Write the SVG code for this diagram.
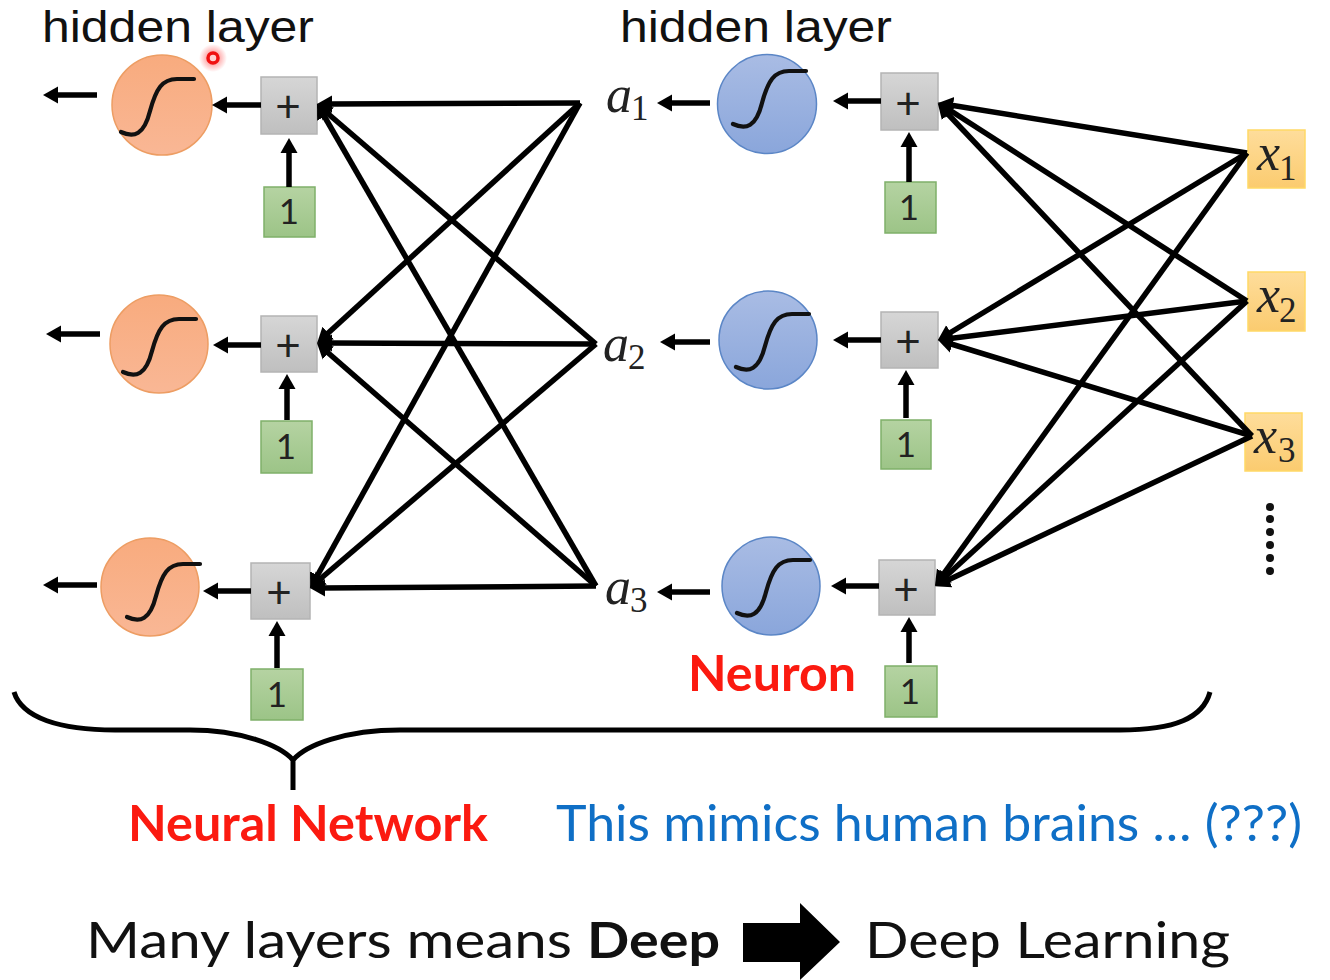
<svg xmlns="http://www.w3.org/2000/svg" width="1330" height="980" viewBox="0 0 1330 980">
<style>
.txt{font-family:"Lato","Open Sans","Liberation Sans",sans-serif;fill:#111;font-size:51px}
.hl{font-family:"Liberation Sans","Lato",sans-serif;fill:#111;font-size:45px}
.b{font-weight:700;font-size:49px}
.plus{fill:url(#gGrey);stroke:#b4b4b4;stroke-width:1.5}
.one{fill:url(#gGreen);stroke:#7fb069;stroke-width:1.5}
.inp{fill:url(#gYellow);stroke:#ffd966;stroke-width:1.5}
.org{fill:url(#gOrange);stroke:#ed9d63;stroke-width:1.5}
.blu{fill:url(#gBlue);stroke:#5b86c6;stroke-width:1.5}
.sig{fill:none;stroke:#111;stroke-width:4.2;stroke-linecap:round}
.sym{font-family:"Lato","Liberation Sans",sans-serif;font-size:35px;fill:#222;text-anchor:middle}
.pl{font-family:"Lato","Liberation Sans",sans-serif;font-size:44px;fill:#222;text-anchor:middle}
.mi{font-family:"Liberation Serif","DejaVu Serif",serif;font-style:italic;font-size:52px;fill:#222}
.sub{font-family:"Liberation Serif","DejaVu Serif",serif;font-size:35px;fill:#222}
.c{stroke:#000;stroke-width:5.5;fill:none;marker-end:url(#ah)}
.n{stroke:#000;stroke-width:5;fill:none}
</style>
<defs>
<marker id="ah" markerUnits="userSpaceOnUse" markerWidth="18" markerHeight="20" refX="3" refY="9" orient="auto"><path d="M0,0.5 L15,9 L0,17.5 Z" fill="#000"/></marker>
<linearGradient id="gGrey" x1="0" y1="0" x2="0" y2="1"><stop offset="0" stop-color="#d6d6d6"/><stop offset="1" stop-color="#bfbfbf"/></linearGradient>
<linearGradient id="gGreen" x1="0" y1="0" x2="0" y2="1"><stop offset="0" stop-color="#b5d3a2"/><stop offset="1" stop-color="#9cc487"/></linearGradient>
<linearGradient id="gYellow" x1="0" y1="0" x2="0" y2="1"><stop offset="0" stop-color="#fedd9b"/><stop offset="1" stop-color="#fbcb6f"/></linearGradient>
<linearGradient id="gOrange" x1="0" y1="0" x2="0" y2="1"><stop offset="0" stop-color="#f8ab7e"/><stop offset="1" stop-color="#f9b795"/></linearGradient>
<linearGradient id="gBlue" x1="0" y1="0" x2="0" y2="1"><stop offset="0" stop-color="#a9bce4"/><stop offset="1" stop-color="#8aa6db"/></linearGradient>
<radialGradient id="glow"><stop offset="0.3" stop-color="#ff3030" stop-opacity="0.5"/><stop offset="1" stop-color="#ff3030" stop-opacity="0"/></radialGradient>
<path id="sig" class="sig" d="M-41,27 C-28,33 -18,30 -12,6 C-6,-16 0,-26 15,-26 L32,-26"/>
</defs>

<g id="o1"><circle class="org" cx="162" cy="105" r="50"/><use href="#sig" x="162" y="105"/></g>
<g id="o2"><circle class="org" cx="159" cy="344" r="49"/><use href="#sig" x="164" y="345"/></g>
<g id="o3"><circle class="org" cx="150" cy="587" r="49"/><use href="#sig" x="168" y="590"/></g>
<g id="b1"><circle class="blu" cx="767" cy="104" r="49.5"/><use href="#sig" x="774" y="97"/></g>
<g id="b2"><circle class="blu" cx="768" cy="340" r="49"/><use href="#sig" x="777" y="340"/></g>
<g id="b3"><circle class="blu" cx="771" cy="586" r="49"/><use href="#sig" x="778" y="586"/></g>

<g id="pL1"><rect class="plus" x="261" y="77" width="56" height="57"/><text class="pl" x="288" y="122">+</text></g>
<g id="pL2"><rect class="plus" x="261" y="316" width="56" height="56"/><text class="pl" x="288" y="361">+</text></g>
<g id="pL3"><rect class="plus" x="251" y="563" width="59" height="56"/><text class="pl" x="279" y="608">+</text></g>
<g id="pR1"><rect class="plus" x="881" y="73" width="57" height="57"/><text class="pl" x="908" y="119">+</text></g>
<g id="pR2"><rect class="plus" x="881" y="312" width="57" height="56"/><text class="pl" x="908" y="357">+</text></g>
<g id="pR3"><rect class="plus" x="879" y="560" width="56" height="55"/><text class="pl" x="906" y="605">+</text></g>

<g id="oL1"><rect class="one" x="264" y="187" width="51" height="50"/><text class="sym" x="289" y="224">1</text></g>
<g id="oL2"><rect class="one" x="261" y="421" width="51" height="52"/><text class="sym" x="286" y="459">1</text></g>
<g id="oL3"><rect class="one" x="251" y="669" width="52" height="51"/><text class="sym" x="277" y="707">1</text></g>
<g id="oR1"><rect class="one" x="885" y="182" width="51" height="51"/><text class="sym" x="909" y="220">1</text></g>
<g id="oR2"><rect class="one" x="881" y="420" width="50" height="49"/><text class="sym" x="906" y="457">1</text></g>
<g id="oR3"><rect class="one" x="885" y="666" width="52" height="51"/><text class="sym" x="910" y="704">1</text></g>

<g id="x1"><rect class="inp" x="1248" y="130" width="57" height="58"/></g>
<g id="x2"><rect class="inp" x="1248" y="272" width="57" height="59"/></g>
<g id="x3"><rect class="inp" x="1245" y="413" width="57" height="58"/></g>

<g id="connectors">
<line class="c" x1="580" y1="103" x2="329" y2="104"/>
<line class="c" x1="596" y1="344" x2="326" y2="112"/>
<line class="c" x1="596" y1="586" x2="323" y2="114"/>
<line class="c" x1="580" y1="103" x2="326" y2="335"/>
<line class="c" x1="596" y1="344" x2="329" y2="343"/>
<line class="c" x1="596" y1="586" x2="326" y2="351"/>
<line class="c" x1="580" y1="103" x2="316" y2="578"/>
<line class="c" x1="596" y1="344" x2="319" y2="580"/>
<line class="c" x1="596" y1="586" x2="322" y2="588"/>
<line class="c" x1="1247" y1="153" x2="950" y2="105"/>
<line class="c" x1="1247" y1="301" x2="948" y2="109"/>
<line class="c" x1="1252" y1="436" x2="946" y2="112"/>
<line class="c" x1="1247" y1="153" x2="948" y2="334"/>
<line class="c" x1="1247" y1="301" x2="950" y2="338.5"/>
<line class="c" x1="1252" y1="436" x2="949.5" y2="343.5"/>
<line class="c" x1="1247" y1="153" x2="942" y2="576"/>
<line class="c" x1="1247" y1="301" x2="944" y2="578"/>
<line class="c" x1="1252" y1="436" x2="946" y2="581"/>
<line class="c" x1="97" y1="95" x2="55" y2="95"/>
<line class="c" x1="100" y1="334" x2="58" y2="334"/>
<line class="c" x1="97" y1="585" x2="55" y2="585"/>
<line class="c" x1="261" y1="105" x2="224" y2="105"/>
<line class="c" x1="261" y1="345" x2="225" y2="345"/>
<line class="c" x1="251" y1="591" x2="215" y2="591"/>
<line class="c" x1="289" y1="187" x2="289" y2="150"/>
<line class="c" x1="287" y1="420" x2="287" y2="386"/>
<line class="c" x1="277" y1="668" x2="277" y2="633"/>
<line class="c" x1="710" y1="103" x2="669" y2="103"/>
<line class="c" x1="710" y1="342" x2="672" y2="342"/>
<line class="c" x1="710" y1="592" x2="669" y2="592"/>
<line class="c" x1="881" y1="101" x2="845" y2="101"/>
<line class="c" x1="881" y1="340" x2="845" y2="340"/>
<line class="c" x1="879" y1="586" x2="843" y2="586"/>
<line class="c" x1="909" y1="182" x2="909" y2="144"/>
<line class="c" x1="906" y1="418" x2="906" y2="382"/>
<line class="c" x1="909" y1="663" x2="909" y2="629"/>
</g>

<g id="labelsX"><text class="mi" x="1257" y="170">x</text><text class="sub" x="1279" y="180">1</text><text class="mi" x="1257" y="312">x</text><text class="sub" x="1279" y="322">2</text><text class="mi" x="1254" y="453">x</text><text class="sub" x="1278" y="462">3</text></g>

<g id="a1"><text class="mi" x="606" y="112">a</text><text class="sub" x="631" y="120">1</text></g>
<g id="a2"><text class="mi" x="603" y="361">a</text><text class="sub" x="628" y="369">2</text></g>
<g id="a3"><text class="mi" x="605" y="604">a</text><text class="sub" x="630" y="612">3</text></g>

<g id="dots" fill="#111"><circle cx="1270" cy="507" r="4"/><circle cx="1270" cy="519" r="4"/><circle cx="1270" cy="532" r="4"/><circle cx="1270" cy="545" r="4"/><circle cx="1270" cy="558" r="4"/><circle cx="1270" cy="571" r="4"/></g>

<g id="brace"><path class="n" d="M14,692 C22,718 60,730 115,730 L190,730 C240,730 280,745 293,760 L293,790 M293,760 C306,745 345,730 400,730 L1120,730 C1175,730 1203,718 1210,692"/></g>

<g id="pointer"><circle cx="213" cy="58" r="14" fill="url(#glow)"/><circle cx="213" cy="58" r="5" fill="#ffd0d0" stroke="#f01010" stroke-width="3.5"/></g>

<text class="hl" x="42" y="41.5" textLength="272" lengthAdjust="spacingAndGlyphs">hidden layer</text>
<text class="hl" x="620" y="41.5" textLength="272" lengthAdjust="spacingAndGlyphs">hidden layer</text>
<text class="txt b" x="688" y="691" style="fill:#fb1a10" textLength="168" lengthAdjust="spacingAndGlyphs">Neuron</text>
<text class="txt b" x="128" y="841" style="fill:#fb1a10" textLength="360" lengthAdjust="spacingAndGlyphs">Neural Network</text>
<text class="txt" x="556" y="841" style="fill:#0f6fc6" textLength="746" lengthAdjust="spacingAndGlyphs">This mimics human brains … (???)</text>
<text class="txt" x="86" y="958" textLength="486" lengthAdjust="spacingAndGlyphs">Many layers means</text>
<text class="txt b" x="587" y="958" textLength="133" lengthAdjust="spacingAndGlyphs">Deep</text>
<polygon id="bigArrow" points="743,923 800,923 800,903 840,942 800,980 800,962 743,962" fill="#000"/>
<text class="txt" x="865" y="958" textLength="365" lengthAdjust="spacingAndGlyphs">Deep Learning</text>
</svg>
